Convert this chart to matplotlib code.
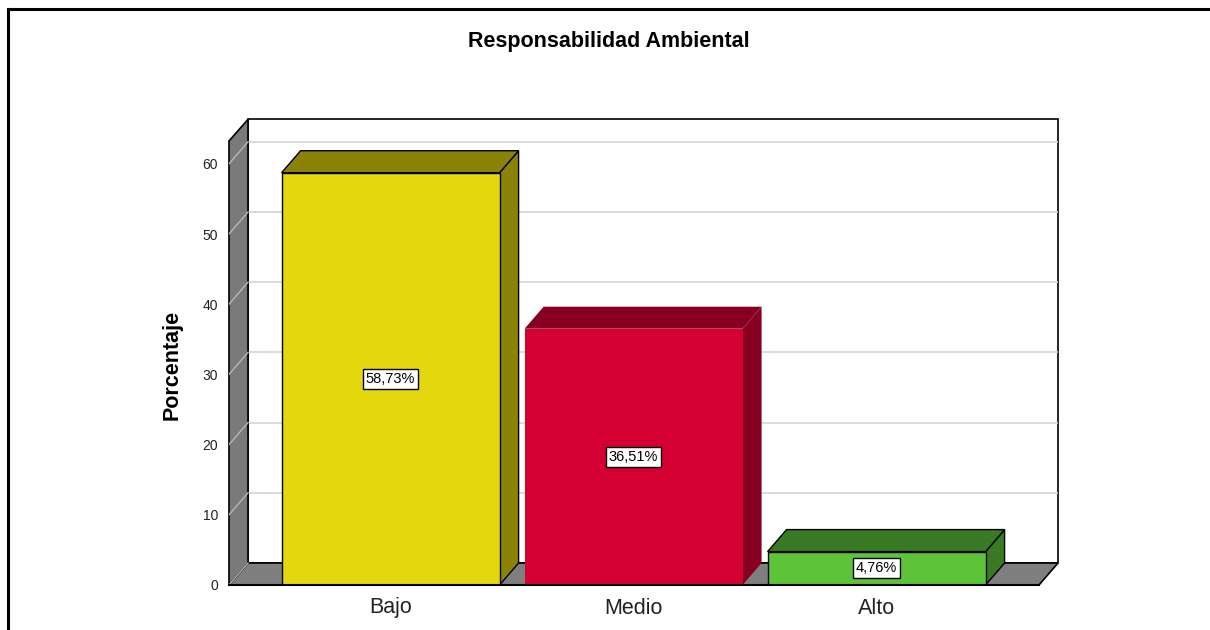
import matplotlib
matplotlib.use("Agg")
import matplotlib.pyplot as plt
from matplotlib.patches import Polygon
from matplotlib.lines import Line2D

plt.rcParams['font.family'] = ['Liberation Sans', 'DejaVu Sans']

# ---- data ----
categories = ["Bajo", "Medio", "Alto"]
percentages = [58.73, 36.51, 4.76]
labels = ["58,73%", "36,51%", "4,76%"]
yticks = [0, 10, 20, 30, 40, 50, 60]
title = "Responsabilidad Ambiental"
ylabel = "Porcentaje"

front_colors = ["#E3D70E", "#D50032", "#5DC43A"]
dark_colors = ["#8B8308", "#870022", "#3A7A25"]
edge_colors = ["black", "none", "black"]

W, H = 1210, 630
fig = plt.figure(figsize=(W / 100, H / 100), dpi=100)
fig.patch.set_facecolor("white")

# axes area in pixels
px_left, px_right, px_bottom, px_top = 229, 1058, 585, 119
ax = fig.add_axes([px_left / W, (H - px_bottom) / H,
                   (px_right - px_left) / W, (px_bottom - px_top) / H])

px_per_cat = 243.0
px_per_unit = 7.02
x0 = -0.665
x1 = x0 + (px_right - px_left) / px_per_cat
ymax = (px_bottom - px_top) / px_per_unit
ax.set_xlim(x0, x1)
ax.set_ylim(0, ymax)

DX = 19 / px_per_cat
DY = 22 / px_per_unit
xr = x0 + (1039 - px_left) / px_per_cat
wall_top = ymax - DY
bw = 218 / px_per_cat

for s in ax.spines.values():
    s.set_visible(False)
ax.set_facecolor("none")

# back wall
ax.add_patch(Polygon([(x0 + DX, DY), (xr + DX, DY), (xr + DX, ymax - 0.05), (x0 + DX, ymax - 0.05)],
                     closed=True, fc="white", ec="black", lw=1.2, zorder=1, clip_on=False))
# gridlines
for t in yticks[1:]:
    ax.plot([x0 + DX, xr + DX], [t + DY, t + DY], color="#d4d4d4", lw=1.2, zorder=2)
# floor
ax.add_patch(Polygon([(x0, 0), (xr, 0), (xr + DX, DY), (x0 + DX, DY)],
                     closed=True, fc="#7f7f7f", ec="black", lw=1.2, zorder=3, clip_on=False))
# left wall
ax.add_patch(Polygon([(x0, 0), (x0, wall_top), (x0 + DX, ymax - 0.05), (x0 + DX, DY)],
                     closed=True, fc="#7a7a7a", ec="black", lw=1.2, zorder=3, clip_on=False))
for t in yticks[1:]:
    ax.plot([x0, x0 + DX], [t, t + DY], color="#b8b8b8", lw=1.0, zorder=4)
ax.plot([x0, x0 + DX], [0, DY], color="#b8b8b8", lw=1.0, zorder=4)

# bars
for i, (v, fc, dc, ec) in enumerate(zip(percentages, front_colors, dark_colors, edge_colors)):
    l, r = i - bw / 2, i + bw / 2
    lw = 1.0 if ec != "none" else 0
    ax.add_patch(Polygon([(r, 0), (r + DX, DY), (r + DX, v + DY), (r, v)],
                         closed=True, fc=dc, ec=ec, lw=lw, zorder=5))
    ax.add_patch(Polygon([(l, v), (r, v), (r + DX, v + DY), (l + DX, v + DY)],
                         closed=True, fc=dc, ec=ec, lw=lw, zorder=5))
    ax.add_patch(Polygon([(l, 0), (r, 0), (r, v), (l, v)],
                         closed=True, fc=fc, ec=ec, lw=lw, zorder=6))
    ax.text(i, v / 2, labels[i], ha="center", va="center", fontsize=10.5, color="black", zorder=8,
            bbox=dict(boxstyle="square,pad=0.2", fc="white", ec="black", lw=1))

# front floor edge
ax.plot([x0, xr], [0, 0], color="black", lw=1.5, zorder=7, clip_on=False)

ax.set_yticks(yticks)
ax.set_yticklabels([str(t) for t in yticks], fontsize=10, color="#222222")
ax.set_xticks(range(len(categories)))
ax.set_xticklabels(categories, fontsize=15.5, color="#222222")
ax.tick_params(axis="both", length=0)
ax.tick_params(axis="y", pad=8)
ax.tick_params(axis="x", pad=9)

fig.text(609 / W, 1 - 42 / H, title, ha="center", va="center", fontsize=15.5, fontweight="bold")
fig.text(172 / W, 1 - 365 / H, ylabel, ha="center", va="center", rotation=90,
         fontsize=15.5, fontweight="bold")

# outer frame
fig.add_artist(Line2D([8 / W, 1.0], [1 - 9 / H, 1 - 9 / H], transform=fig.transFigure,
                      color="black", lw=2.2))
fig.add_artist(Line2D([8 / W, 8 / W], [1 - 9 / H, 0], transform=fig.transFigure,
                      color="black", lw=2.2))

fig.savefig("out.png", dpi=100, facecolor="white")
